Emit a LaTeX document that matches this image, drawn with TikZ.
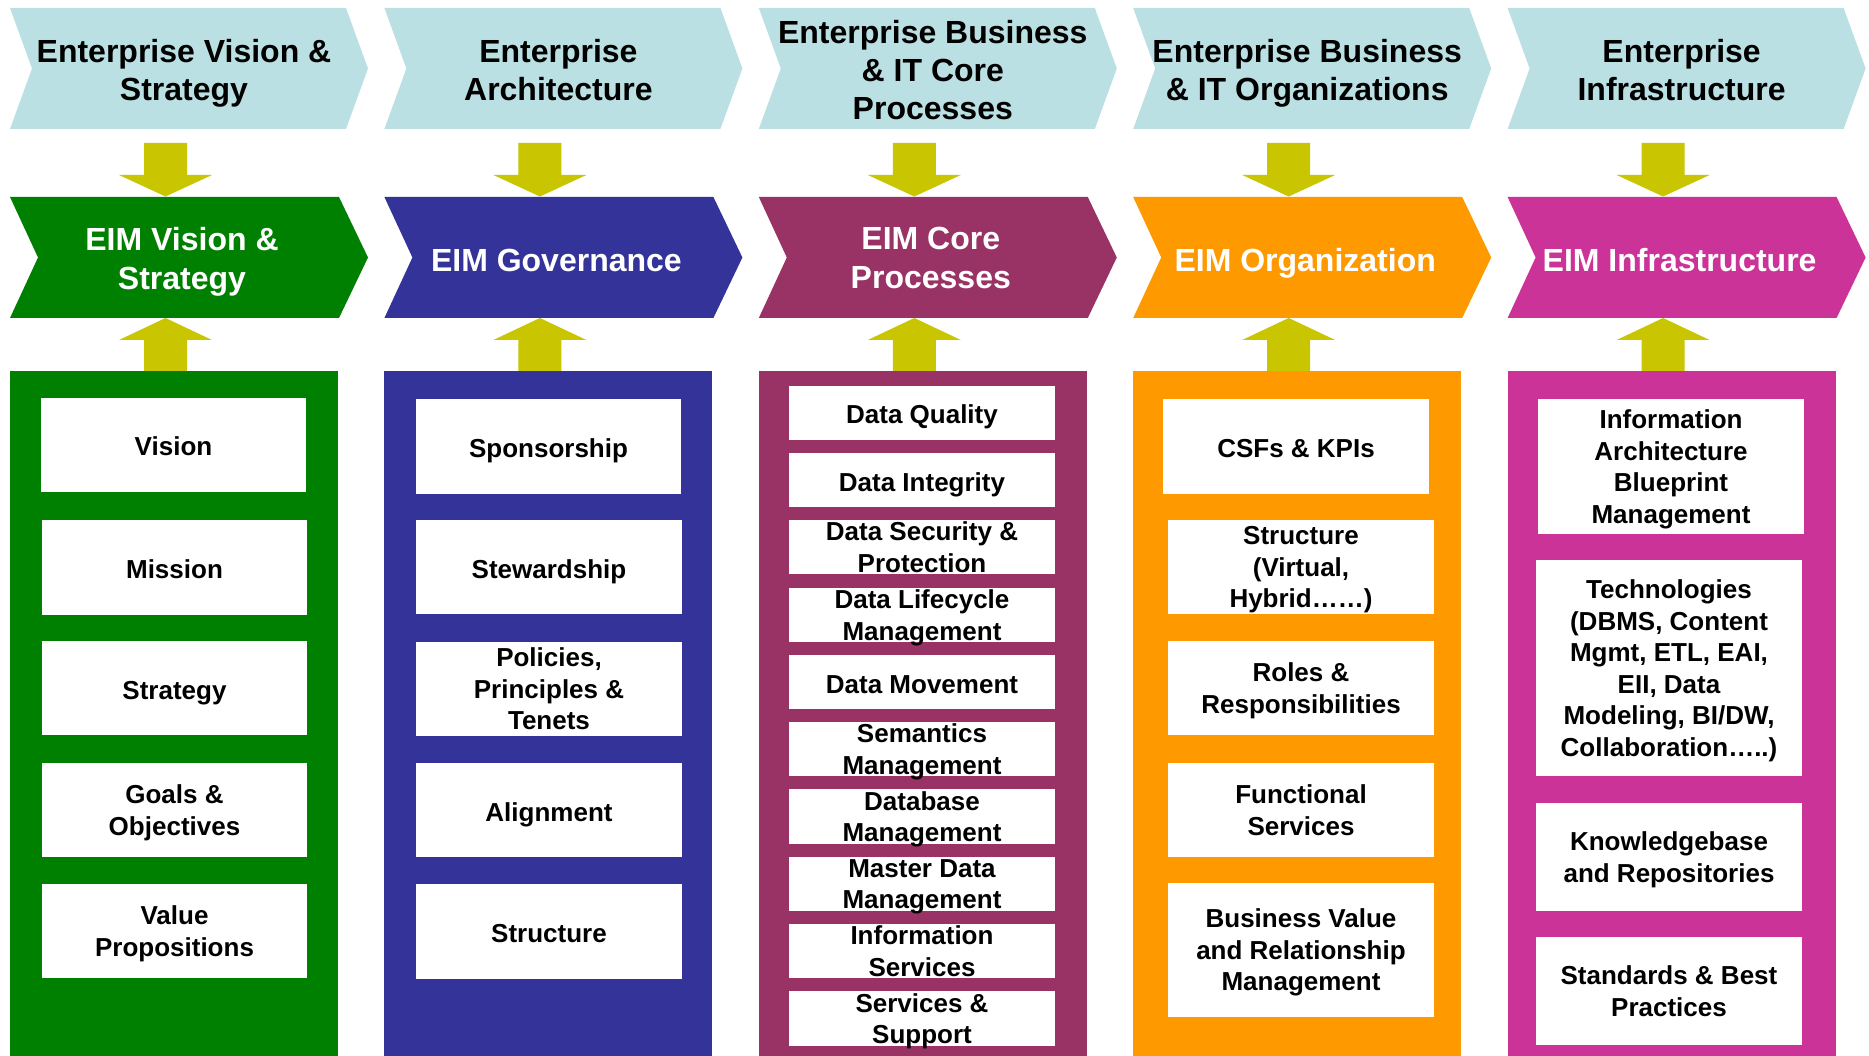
\documentclass[tikz,border=0pt]{standalone}
\usepackage{fontspec}
\setmainfont{Liberation Sans}
\definecolor{toplight}{RGB}{187,224,227}
\definecolor{cgreen}{RGB}{0,128,0}
\definecolor{cblue}{RGB}{51,51,153}
\definecolor{cplum}{RGB}{153,51,102}
\definecolor{corange}{RGB}{255,153,0}
\definecolor{cpink}{RGB}{204,51,153}
\definecolor{arrowc}{RGB}{201,197,0}
\tikzset{
  struts/.style={execute at begin node=\strut, execute at end node=\strut},
  toptext/.style={font=\fontsize{32}{38}\selectfont\bfseries, text=black, align=center, inner sep=0pt, struts, yshift=-7.3pt},
  eimtext/.style={font=\fontsize{32}{39}\selectfont\bfseries, text=white, align=center, inner sep=0pt, struts, yshift=-6.5pt},
  itext/.style={font=\fontsize{26}{31.5}\selectfont\bfseries, text=black, align=center, inner sep=0pt, struts, yshift=-4.7pt},
  blockarrow/.style={fill=arrowc},
}
\newcommand\eimcolumn[5]{%
  \fill[toplight] (#2,8) -- (#2+336,8) -- (#2+358,68.5) -- (#2+336,129) -- (#2,129) -- (#2+22,68.5) -- cycle;
  \node[toptext] (#1top) at (#2+174,68.5) {#4};
  \fill[blockarrow] (#2+134,143) -- (#2+177,143) -- (#2+177,175) -- (#2+202,175) -- (#2+155.5,196.5) -- (#2+109,175) -- (#2+134,175) -- cycle;
  \fill[#3] (#2,197) -- (#2+329,197) -- (#2+358,257.5) -- (#2+329,318) -- (#2,318) -- (#2+28,257.5) -- cycle;
  \node[eimtext] (#1eim) at (#2+172,257.5) {#5};
  \fill[blockarrow] (#2+155.5,318) -- (#2+202,340) -- (#2+177,340) -- (#2+177,371.5) -- (#2+134,371.5) -- (#2+134,340) -- (#2+109,340) -- cycle;
  \fill[#3] (#2,371) rectangle (#2+328,1056);
}
\newcommand\ibox[6]{%
  \fill[white] (#2,#3) rectangle (#4,#5);
  \node[itext] (#1) at ({(#2+#4)/2},{(#3+#5)/2}) {#6};
}
\begin{document}
\begin{tikzpicture}[x=1pt,y=-1pt]
\useasboundingbox (0,0) rectangle (1869,1056);
\fill[white] (0,0) rectangle (1869,1056);

\eimcolumn{a}{10}{cgreen}{Enterprise Vision \&\\Strategy}{EIM Vision \&\\Strategy}
\eimcolumn{b}{384.4}{cblue}{Enterprise\\Architecture}{EIM Governance}
\eimcolumn{c}{758.8}{cplum}{Enterprise Business\\\& IT Core\\Processes}{EIM Core\\Processes}
\eimcolumn{d}{1133.2}{corange}{Enterprise Business\\\& IT Organizations}{EIM Organization}
\eimcolumn{e}{1507.6}{cpink}{Enterprise\\Infrastructure}{EIM Infrastructure}

% column 1
\ibox{a1}{41}{398}{306}{492}{Vision}
\ibox{a2}{42}{520}{307}{615}{Mission}
\ibox{a3}{42}{641}{307}{735}{Strategy}
\ibox{a4}{42}{763}{307}{857}{Goals \&\\Objectives}
\ibox{a5}{42}{884}{307}{978}{Value\\Propositions}

% column 2
\ibox{b1}{416}{399}{681}{494}{Sponsorship}
\ibox{b2}{416}{520}{682}{614}{Stewardship}
\ibox{b3}{416}{642}{682}{736}{Policies,\\Principles \&\\Tenets}
\ibox{b4}{416}{763}{682}{857}{Alignment}
\ibox{b5}{416}{884}{682}{979}{Structure}

% column 3
\ibox{c1}{789}{386}{1055}{440}{Data Quality}
\ibox{c2}{789}{453}{1055}{507}{Data Integrity}
\ibox{c3}{789}{520}{1055}{574}{Data Security \&\\Protection}
\ibox{c4}{789}{588}{1055}{642}{Data Lifecycle\\Management}
\ibox{c5}{789}{655}{1055}{709}{Data Movement}
\ibox{c6}{789}{722}{1055}{776}{Semantics\\Management}
\ibox{c7}{789}{789}{1055}{844}{Database\\Management}
\ibox{c8}{789}{857}{1055}{911}{Master Data\\Management}
\ibox{c9}{789}{924}{1055}{978}{Information\\Services}
\ibox{c10}{789}{991}{1055}{1046}{Services \&\\Support}

% column 4
\ibox{d1}{1163}{399}{1429}{494}{CSFs \& KPIs}
\ibox{d2}{1168}{520}{1434}{614}{Structure\\(Virtual,\\Hybrid……)}
\ibox{d3}{1168}{641}{1434}{735}{Roles \&\\Responsibilities}
\ibox{d4}{1168}{763}{1434}{857}{Functional\\Services}
\ibox{d5}{1168}{883}{1434}{1017}{Business Value\\and Relationship\\Management}

% column 5
\ibox{e1}{1538}{399}{1804}{534}{Information\\Architecture\\Blueprint\\Management}
\ibox{e2}{1536}{560}{1802}{776}{Technologies\\(DBMS, Content\\Mgmt, ETL, EAI,\\EII, Data\\Modeling, BI/DW,\\Collaboration…..)}
\ibox{e3}{1536}{803}{1802}{911}{Knowledgebase\\and Repositories}
\ibox{e4}{1536}{937}{1802}{1045}{Standards \& Best\\Practices}
\end{tikzpicture}
\end{document}
